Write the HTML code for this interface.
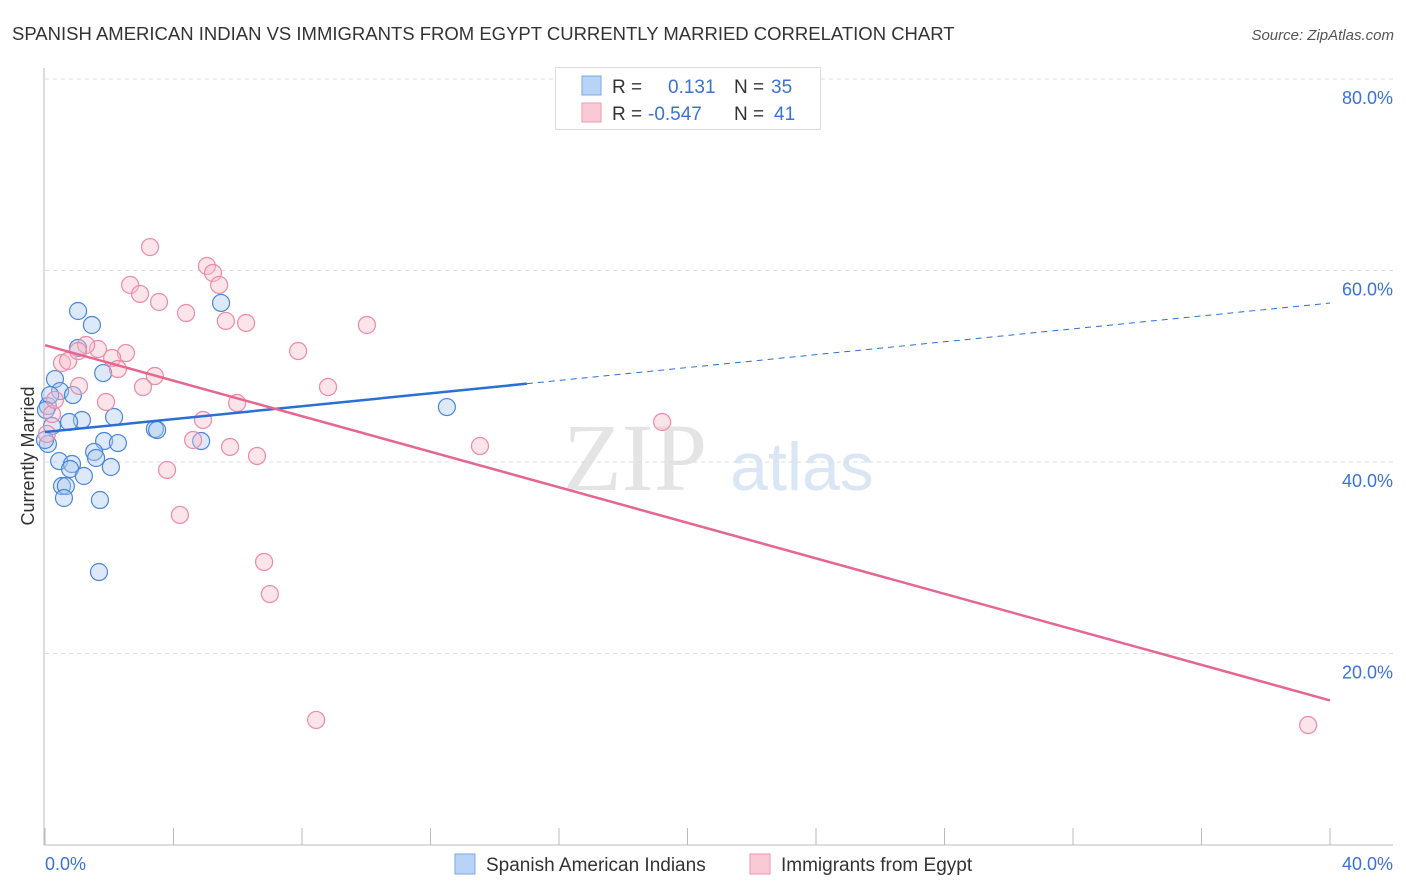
<!DOCTYPE html>
<html><head><meta charset="utf-8"><style>
body{margin:0;background:#fff;font-family:"Liberation Sans",sans-serif;}
#wrap{position:relative;width:1406px;height:892px;overflow:hidden}
</style></head><body>
<div id="wrap">
<svg id="svg" width="1406" height="892">
<text x="12" y="40" font-size="18.5" fill="#333">SPANISH AMERICAN INDIAN VS IMMIGRANTS FROM EGYPT CURRENTLY MARRIED CORRELATION CHART</text>
<text x="1394" y="40" font-size="15" fill="#555" font-style="italic" text-anchor="end">Source: ZipAtlas.com</text>
<text x="635" y="490" font-size="96" fill="#e4e4e4" font-family="Liberation Serif" text-anchor="middle">ZIP</text>
<text x="802" y="490" font-size="68" fill="#dbe6f5" text-anchor="middle">atlas</text>
<g id="grid"></g><g id="axes"></g><g id="pts"></g><g id="lines"></g>
<text transform="translate(34,456) rotate(-90)" font-size="18" fill="#333" text-anchor="middle">Currently Married</text>
<g>
<rect x="555.5" y="67.5" width="265" height="62" fill="#fff" stroke="#ddd"/>
<rect x="582" y="76" width="19" height="19" fill="#b8d3f5" stroke="#7aa8e6"/>
<rect x="582" y="103" width="19" height="19" fill="#f9c9d6" stroke="#ee9ab2"/>
<text x="612" y="93" font-size="19" fill="#333">R = </text><text x="668" y="93" font-size="19" fill="#3a72d6">0.131</text>
<text x="734" y="93" font-size="19" fill="#333">N = </text><text x="771" y="93" font-size="19" fill="#3a72d6">35</text>
<text x="612" y="120" font-size="19" fill="#333">R = </text><text x="648" y="120" font-size="19" fill="#3a72d6">-0.547</text>
<text x="734" y="120" font-size="19" fill="#333">N = </text><text x="774" y="120" font-size="19" fill="#3a72d6">41</text>
</g>
<g>
<rect x="455" y="854" width="20" height="20" fill="#b8d3f5" stroke="#7aa8e6"/>
<text x="486" y="871" font-size="19" fill="#333">Spanish American Indians</text>
<rect x="750" y="854" width="20" height="20" fill="#f9c9d6" stroke="#ee9ab2"/>
<text x="781" y="871" font-size="19" fill="#333">Immigrants from Egypt</text>
</g>
</svg>
</div>
<script>
const yTicks=[20,40,60,80];
const yTickLabels=["20.0%","40.0%","60.0%","80.0%"];
const xTickLabels=["0.0%","40.0%"];
const blueX=[1.03,1.46,5.48,1.81,0.31,0.47,0.87,0.09,0.22,0.09,1.15,0.75,2.15,1.03,1.84,2.27,3.42,3.49,4.86,1.53,1.59,0.44,0.84,0.78,2.05,1.21,0.53,0.65,0.59,1.71,1.68,12.51,0.0,0.16,0.03];
const blueY=[55.77,54.31,56.61,49.29,48.66,47.41,46.99,45.84,43.76,41.88,44.39,44.18,44.70,51.91,42.19,41.98,43.45,43.34,42.19,41.05,40.42,40.10,39.79,39.27,39.48,38.54,37.49,37.49,36.24,36.03,28.51,45.74,42.30,46.99,45.43];
const pinkX=[3.27,5.04,5.23,5.42,2.65,2.96,3.55,4.39,5.63,6.26,10.02,7.88,2.52,1.65,1.28,2.09,2.27,0.53,0.72,1.03,1.06,3.42,3.05,1.90,5.98,8.81,4.92,4.61,5.76,6.60,3.80,13.54,19.21,4.20,6.82,7.00,8.44,39.32,0.22,0.06,0.31];
const pinkY=[62.45,60.47,59.74,58.49,58.49,57.55,56.71,55.56,54.73,54.52,54.31,51.59,51.38,51.80,52.22,50.86,49.71,50.34,50.55,51.59,47.94,48.98,47.83,46.27,46.16,47.83,44.39,42.30,41.57,40.63,39.17,41.67,44.18,34.47,29.56,26.21,13.06,12.53,45.01,42.93,46.48];
const blueTrend=[43.13,56.6];
const pinkTrend=[52.2,15.1];
const blueSolidEnd=15.0;
const X=v=>45+v/40*1285, Y=v=>845-v/20*191.5;
const NS="http://www.w3.org/2000/svg";
function mk(tag,parent,attrs){const e=document.createElementNS(NS,tag);for(const k in attrs)e.setAttribute(k,attrs[k]);document.getElementById(parent).appendChild(e);return e;}
yTicks.forEach((t,i)=>{
 const g=mk('line','grid',{x1:45,x2:1393,y1:Y(t),y2:Y(t),stroke:'#ddd','stroke-dasharray':'4,4'});
 
 
 const tx=mk('text','grid',{x:1393,y:Y(t)+25,'font-size':18,fill:'#3a72d6','text-anchor':'end'});tx.textContent=yTickLabels[i];
 
 
});
let a=mk('line','axes',{x1:44,x2:44,y1:68,y2:845,stroke:'#bbb'});


a=mk('line','axes',{x1:44,x2:1393,y1:845,y2:845,stroke:'#bbb'});


for(let i=0;i<=10;i++){const t=mk('line','axes',{x1:X(i*4),x2:X(i*4),y1:828,y2:845,stroke:'#bbb'});
 
 }
let l=mk('text','axes',{x:45,y:870,'font-size':18,fill:'#3a72d6'});l.textContent=xTickLabels[0];


l=mk('text','axes',{x:1393,y:870,'font-size':18,fill:'#3a72d6','text-anchor':'end'});l.textContent=xTickLabels[1];


function pts(xs,ys,fill,stroke,name){xs.forEach((x,i)=>{const c=mk('circle','pts',{cx:X(x),cy:Y(ys[i]),r:8.5,fill:fill,'fill-opacity':0.4,stroke:stroke,'stroke-width':1.2});
 
 });}
pts(blueX,blueY,'#a9c8f0','#4a86dc','point-spanish');
pts(pinkX,pinkY,'#f7bccd','#ec8aa8','point-egypt');
const bAt=x=>blueTrend[0]+(blueTrend[1]-blueTrend[0])*x/40;
let t=mk('line','lines',{x1:X(0),y1:Y(bAt(0)),x2:X(blueSolidEnd),y2:Y(bAt(blueSolidEnd)),stroke:'#2a6fd4','stroke-width':2.5});


t=mk('line','lines',{x1:X(blueSolidEnd),y1:Y(bAt(blueSolidEnd)),x2:X(40),y2:Y(bAt(40)),stroke:'#2a6fd4','stroke-width':1,'stroke-dasharray':'6,5'});


t=mk('line','lines',{x1:X(0),y1:Y(pinkTrend[0]),x2:X(40),y2:Y(pinkTrend[1]),stroke:'#e5668f','stroke-width':2.5});


</script>
</body></html>
